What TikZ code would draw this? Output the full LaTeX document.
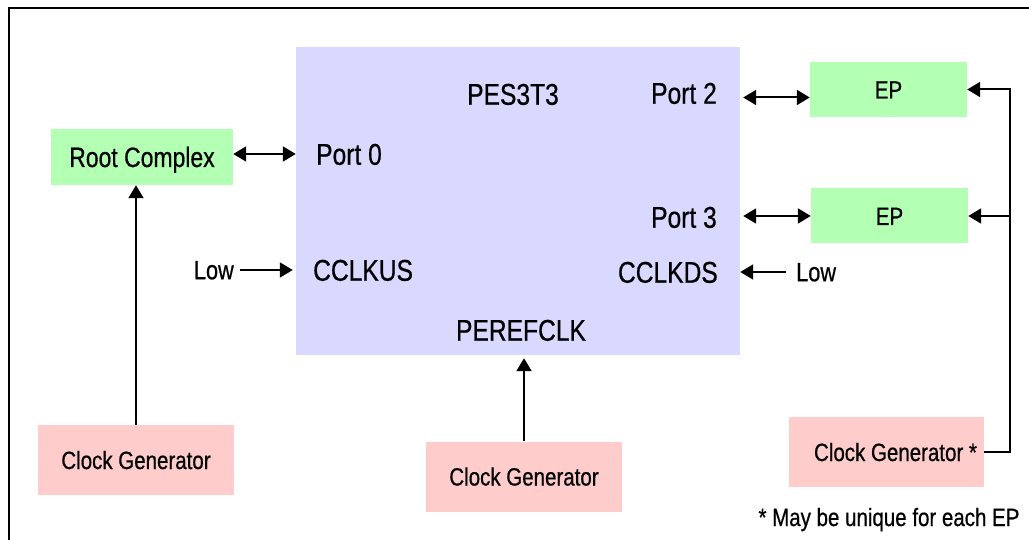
\documentclass[tikz,border=0pt]{standalone}
\usepackage{fontspec}
\setmainfont{Liberation Sans}[FakeStretch=0.82,FakeBold=0.6]
\usetikzlibrary{arrows.meta,positioning}
\definecolor{chipblue}{HTML}{D9D9FF}
\definecolor{epgreen}{HTML}{B3FFB3}
\definecolor{clkpink}{HTML}{FFCCCC}

\begin{document}
\begin{tikzpicture}[x=1pt,y=-1pt,
    chiptxt/.style={inner sep=0pt, text height=21.5pt, text depth=0pt, font=\fontsize{30}{34}\selectfont},
    bigtxt/.style={inner sep=0pt, text height=20pt, text depth=0pt, font=\fontsize{28}{32}\selectfont},
    smalltxt/.style={inner sep=0pt, text height=18pt, text depth=0pt, font=\fontsize{25}{30}\selectfont},
    lowtxt/.style={inner sep=0pt, text height=18.5pt, text depth=0pt, font=\fontsize{26.5}{30}\selectfont},
    chip/.style={fill=chipblue, inner sep=0pt, minimum width=444pt, minimum height=308pt},
    greenbox/.style={fill=epgreen, inner sep=0pt},
    clockbox/.style={smalltxt, fill=clkpink, minimum width=196pt, minimum height=70pt},
    conn/.style={line width=2pt, -{Triangle[length=13pt,width=15pt]}},
    biconn/.style={line width=2pt, {Triangle[length=13pt,width=15pt]}-{Triangle[length=13pt,width=15pt]}}]
\useasboundingbox (0,0) rectangle (1029,540);
\draw[line width=2pt] (9,540) -- (9,8) -- (1029,8);

\node[chip] (pes) at (518,201) {};
\node[chiptxt] (title) at (513,94) {PES3T3};
\node[chiptxt,anchor=west] (port0) at (316,154) {Port 0};
\node[chiptxt,anchor=east] (port2) at (717,93) {Port 2};
\node[chiptxt,anchor=east] (port3) at (717,217) {Port 3};
\node[chiptxt,anchor=west] (cclkus) at (313,270) {CCLKUS};
\node[chiptxt,anchor=east] (cclkds) at (718,272) {CCLKDS};
\node[chiptxt] (perefclk) at (521,330) {PEREFCLK};
\node[lowtxt] (lowus) [left=79pt of cclkus] {Low};
\node[lowtxt] (lowds) [right=78pt of cclkds] {Low};

\node[greenbox,bigtxt,minimum width=182pt,minimum height=56pt] (rc) at (142,157) {Root Complex};
\node[greenbox,smalltxt,minimum width=157pt,minimum height=55pt] (ep1) at (888.5,89.5) {EP};
\node[greenbox,smalltxt,minimum width=157pt,minimum height=55pt] (ep2) at (889.5,216) {EP};

\node[clockbox] (cgL) at (136,460) {Clock Generator};
\node[clockbox] (cgM) at (524,476.5) {Clock Generator};
\node[clockbox,text width=181pt,align=flush right,inner xsep=7pt,minimum width=195pt] (cgR) at (886.5,452) {Clock Generator *};
\node[smalltxt] (note) at (889,517) {* May be unique for each EP};

\draw[biconn] (rc.east |- port0) -- (pes.west |- port0);
\draw[biconn,shorten <=3pt] ([yshift=-8pt]ep1.west -| pes.east) -- ([yshift=-8pt]ep1.west);
\draw[biconn,shorten <=3pt] (ep2.west -| pes.east) -- (ep2.west);
\draw[conn,shorten <=6pt,shorten >=3pt] (lowus) -- (lowus -| pes.west);
\draw[conn,shorten <=10pt] (lowds) -- (lowds -| pes.east);
\draw[conn] (cgL.north) -- (cgL.north |- rc.south);
\draw[conn,shorten >=3pt] (cgM.north) -- (cgM.north |- pes.south);
\coordinate (bus) at (1010,0);
\draw[conn] (cgR.east) -- (cgR.east -| bus) |- (ep1.east);
\draw[conn] (bus |- ep2.east) -- (ep2.east);
\end{tikzpicture}
\end{document}
